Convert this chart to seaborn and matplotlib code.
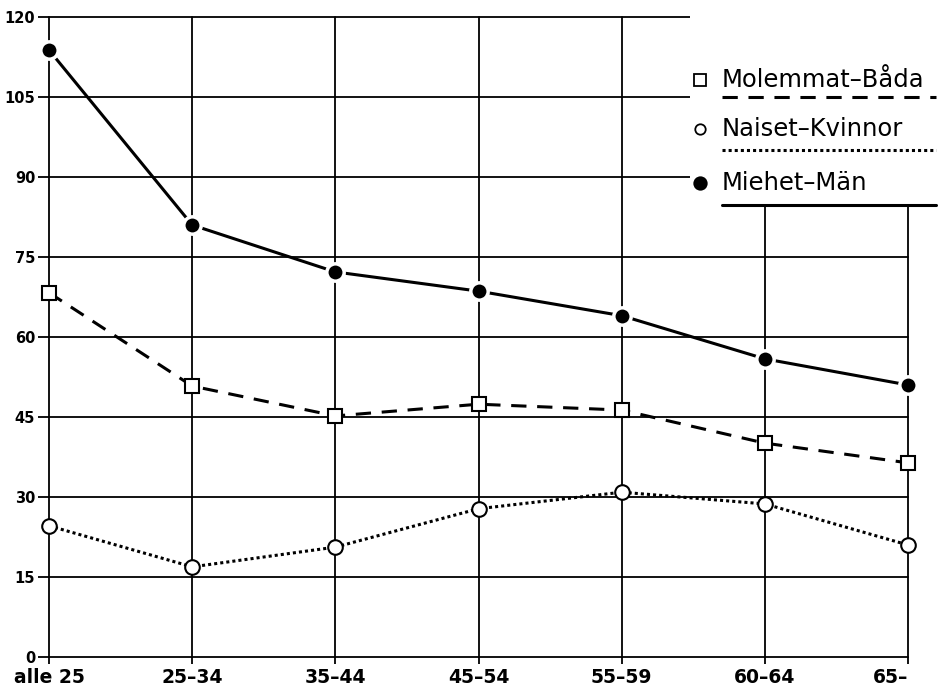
import numpy as np
import pandas as pd
import seaborn as sns
import matplotlib.pyplot as plt
from matplotlib.lines import Line2D
from matplotlib.patches import Rectangle

# arvot luettu kuvasta
ages = ["alle 25", "25–34", "35–44", "45–54", "55–59", "60–64", "65–"]
molemmat = [68.3, 50.8, 45.2, 47.4, 46.3, 40.1, 36.4]
naiset = [24.6, 16.9, 20.6, 27.8, 30.9, 28.7, 21.0]
miehet = [113.8, 81.0, 72.2, 68.6, 64.0, 55.9, 51.0]
labels = ["Molemmat–Båda", "Naiset–Kvinnor", "Miehet–Män"]
yticks = [0, 15, 30, 45, 60, 75, 90, 105, 120]

df = pd.DataFrame({
    "ika": ages * 3,
    "arvo": molemmat + naiset + miehet,
    "ryhma": np.repeat(labels, len(ages)),
})

sns.set_theme(style="white")
plt.rcParams["font.family"] = ["DejaVu Sans"]

fig = plt.figure(figsize=(9.45, 6.92), dpi=100)
ax = fig.add_axes([0.0519, 0.0506, 0.909, 0.9248])

styles = {
    "Molemmat–Båda": dict(linestyle=(0, (5, 3.5)), marker="s", markersize=10,
                          markerfacecolor="white", markeredgecolor="black", markeredgewidth=1.5),
    "Naiset–Kvinnor": dict(linestyle=(0, (1, 1)), marker="o", markersize=10.5,
                           markerfacecolor="white", markeredgecolor="black", markeredgewidth=1.5),
    "Miehet–Män": dict(linestyle="-", marker="o", markersize=12.5,
                       markerfacecolor="black", markeredgecolor="white", markeredgewidth=2.5),
}

for lab in labels:
    sns.lineplot(data=df[df.ryhma == lab], x="ika", y="arvo", ax=ax, color="black",
                 lw=2.2, clip_on=False, zorder=3, **styles[lab])

ax.set_xlim(0, len(ages) - 1)
ax.set_ylim(0, 120)
ax.set_yticks(yticks)
ax.set_xlabel("")
ax.set_ylabel("")
ax.set_axisbelow(True)
ax.grid(True, color="black", lw=1.3)
for s in ax.spines.values():
    s.set_visible(False)

ax.tick_params(axis="y", left=True, length=8, width=1.3, pad=2, labelsize=10.5, color="black")
ax.tick_params(axis="x", bottom=True, length=5, width=1.3, pad=3, labelsize=13.5, color="black")
for t in ax.get_yticklabels() + ax.get_xticklabels():
    t.set_fontweight("bold")
    t.set_color("black")
ax.get_xticklabels()[-1].set_horizontalalignment("right")
for gl in ax.get_xgridlines() + ax.get_ygridlines():
    gl.set_clip_on(False)

# legenda-alue peittää ruudukon oikeasta yläkulmasta
ax.add_patch(Rectangle((690 / 945, 1 - 207 / 692), 1, 1, transform=fig.transFigure,
                       facecolor="white", edgecolor="none", zorder=1, clip_on=False))

rows = [(80, 97), (129, 150), (183, 205)]
leg_ms = [8, 7.5, 9]
for lab, (ty, ly), ms in zip(labels, rows, leg_ms):
    st = styles[lab]
    yt = 1 - ty / 692
    yl = 1 - ly / 692
    fig.add_artist(Line2D([700 / 945], [yt], marker=st["marker"], markersize=ms,
                          markerfacecolor=st["markerfacecolor"],
                          markeredgecolor="black", markeredgewidth=1.3,
                          linestyle="none", transform=fig.transFigure))
    fig.text(722 / 945, yt, lab, fontsize=17.5, va="center", ha="left", color="black")
    fig.add_artist(Line2D([722 / 945, 936 / 945], [yl, yl], color="black", lw=2.2,
                          linestyle=st["linestyle"], transform=fig.transFigure))

fig.savefig("out.png", dpi=100)
